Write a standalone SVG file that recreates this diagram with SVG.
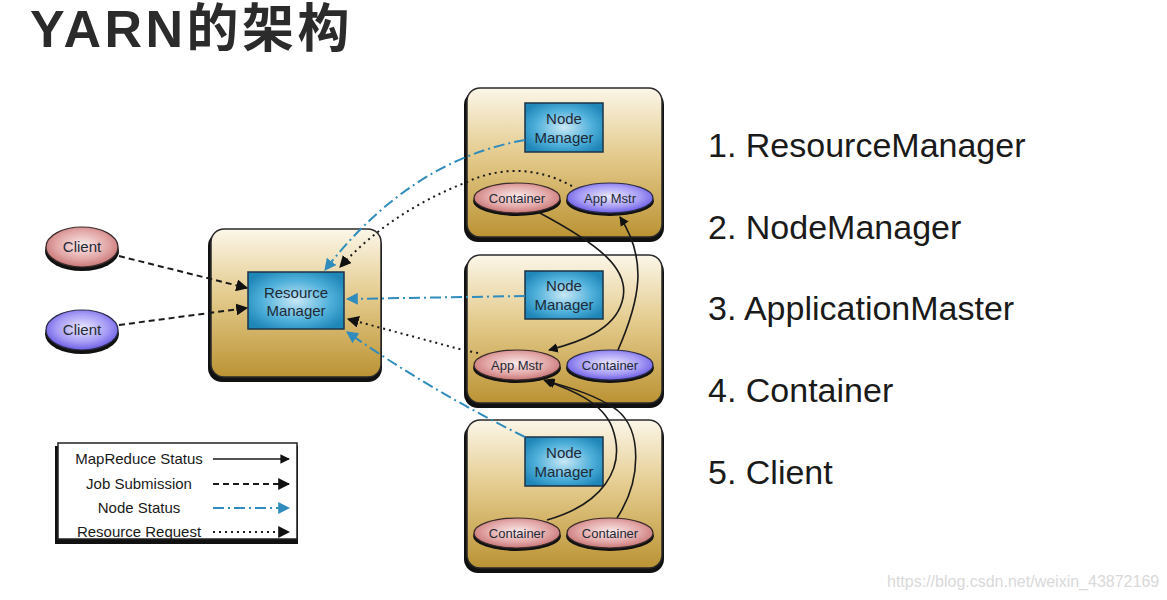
<svg xmlns="http://www.w3.org/2000/svg" width="1167" height="600" viewBox="0 0 1167 600">
<style>
.t{font-family:"Liberation Sans",Arial,sans-serif;fill:#1e2a36;text-anchor:middle}
.nt{font-size:15px}
.et{font-size:13px}
.leg{font-size:15px;fill:#1a1a1a}
.list{font-family:"Liberation Sans",Arial,sans-serif;font-size:34px;fill:#1a1a1a}
.box{fill:url(#gold);stroke:#2a2a2a;stroke-width:1.5}
.shadow{fill:#111}
.inner{fill:url(#blue);stroke:#1b3346;stroke-width:1.5}
.ered{fill:url(#red);stroke:#3a2a2a;stroke-width:1.2}
.eblue{fill:url(#purp);stroke:#2a2a4a;stroke-width:1.2}
.mr{fill:none;stroke:#1a1a1a;stroke-width:1.6;marker-end:url(#ab)}
.js{fill:none;stroke:#1a1a1a;stroke-width:2;stroke-dasharray:6 4;marker-end:url(#ab)}
.ns{fill:none;stroke:#2f8cbc;stroke-width:2;stroke-dasharray:11 4 2 4;marker-end:url(#abl)}
.rr{fill:none;stroke:#1a1a1a;stroke-width:2;stroke-dasharray:2 4;marker-end:url(#ab)}
</style>
<defs>
<linearGradient id="gold" x1="0" y1="0" x2="0" y2="1">
<stop offset="0" stop-color="#fbf6e8"/>
<stop offset="0.45" stop-color="#e4cb8d"/>
<stop offset="1" stop-color="#bb9334"/>
</linearGradient>
<radialGradient id="blue" cx="0.5" cy="0.5" r="0.6">
<stop offset="0" stop-color="#c8e8f6"/>
<stop offset="0.6" stop-color="#4fb0da"/>
<stop offset="1" stop-color="#1f86b8"/>
</radialGradient>
<radialGradient id="red" cx="0.5" cy="0.45" r="0.6">
<stop offset="0" stop-color="#fbeaea"/>
<stop offset="0.6" stop-color="#e2a6a6"/>
<stop offset="1" stop-color="#c26a6a"/>
</radialGradient>
<radialGradient id="purp" cx="0.5" cy="0.45" r="0.6">
<stop offset="0" stop-color="#ece8ff"/>
<stop offset="0.6" stop-color="#a59af5"/>
<stop offset="1" stop-color="#5e4ee0"/>
</radialGradient>
<marker id="ab" viewBox="0 0 10 10" refX="9" refY="5" markerWidth="6" markerHeight="6" markerUnits="strokeWidth" orient="auto">
<path d="M0,0 L10,5 L0,10 z" fill="#111"/>
</marker>
<marker id="abl" viewBox="0 0 10 10" refX="9" refY="5" markerWidth="6" markerHeight="6" markerUnits="strokeWidth" orient="auto">
<path d="M0,0 L10,5 L0,10 z" fill="#2f8cbc"/>
</marker>
</defs>
<rect width="1167" height="600" fill="#ffffff"/>

<text x="30" y="47" font-family="'Liberation Sans','Noto Sans CJK SC',sans-serif" font-size="52" font-weight="bold" letter-spacing="3.5" fill="#2b2b2b">YARN的架构</text>

<g id="rm">
<rect class="shadow" x="208" y="232" width="174" height="150" rx="14"/>
<rect class="box" x="211" y="229" width="170" height="148" rx="13"/>
<rect class="inner" x="248" y="272" width="96" height="57"/>
<text class="t nt" x="296" y="298">Resource</text>
<text class="t nt" x="296" y="316">Manager</text>
</g>

<g id="nm1">
<rect class="shadow" x="464" y="91" width="200" height="151" rx="14"/>
<rect class="box" x="467" y="88" width="195" height="149" rx="13"/>
<rect class="inner" x="525" y="103" width="78" height="49"/>
<text class="t nt" x="564" y="124">Node</text>
<text class="t nt" x="564" y="143">Manager</text>
<ellipse class="shadow" cx="517" cy="201" rx="44" ry="15"/>
<ellipse class="ered" cx="517" cy="198" rx="43" ry="15"/>
<text class="t et" x="517" y="203">Container</text>
<ellipse class="shadow" cx="610" cy="201" rx="44" ry="15"/>
<ellipse class="eblue" cx="610" cy="198" rx="43" ry="15"/>
<text class="t et" x="610" y="203">App Mstr</text>
</g>

<g id="nm2">
<rect class="shadow" x="464" y="258" width="200" height="150" rx="14"/>
<rect class="box" x="467" y="255" width="195" height="148" rx="13"/>
<rect class="inner" x="525" y="271" width="78" height="48"/>
<text class="t nt" x="564" y="291">Node</text>
<text class="t nt" x="564" y="310">Manager</text>
<ellipse class="shadow" cx="517" cy="368" rx="44" ry="15"/>
<ellipse class="ered" cx="517" cy="365" rx="43" ry="15"/>
<text class="t et" x="517" y="370">App Mstr</text>
<ellipse class="shadow" cx="610" cy="368" rx="44" ry="15"/>
<ellipse class="eblue" cx="610" cy="365" rx="43" ry="15"/>
<text class="t et" x="610" y="370">Container</text>
</g>

<g id="nm3">
<rect class="shadow" x="464" y="423" width="200" height="150" rx="14"/>
<rect class="box" x="467" y="420" width="195" height="148" rx="13"/>
<rect class="inner" x="525" y="437" width="78" height="49"/>
<text class="t nt" x="564" y="458">Node</text>
<text class="t nt" x="564" y="477">Manager</text>
<ellipse class="shadow" cx="517" cy="536" rx="44" ry="15"/>
<ellipse class="ered" cx="517" cy="533" rx="43" ry="15"/>
<text class="t et" x="517" y="538">Container</text>
<ellipse class="shadow" cx="610" cy="536" rx="44" ry="15"/>
<ellipse class="ered" cx="610" cy="533" rx="43" ry="15"/>
<text class="t et" x="610" y="538">Container</text>
</g>

<g id="client1">
<ellipse class="shadow" cx="82" cy="251" rx="37" ry="20"/>
<ellipse class="ered" cx="82" cy="247" rx="36" ry="20"/>
<text class="t nt" x="82" y="252">Client</text>
</g>
<g id="client2">
<ellipse class="shadow" cx="82" cy="334" rx="37" ry="20"/>
<ellipse class="eblue" cx="82" cy="330" rx="36" ry="20"/>
<text class="t nt" x="82" y="335">Client</text>
</g>

<g id="connectors">
<path class="js" d="M119,256 L247,288"/>
<path class="js" d="M119,325 L247,308"/>
<path class="ns" d="M525,140 Q 410,160 325,270"/>
<path class="rr" d="M572,186 Q 520,158 467,182 Q 390,212 340,267"/>
<path class="ns" d="M525,296 L347,299"/>
<path class="rr" d="M478,353 L463,350 L348,319"/>
<path class="ns" d="M525,437 Q 430,390 347,332"/>
<path class="mr" d="M538,212 C 600,245 632,270 622,302 C 614,330 580,342 549,350"/>
<path class="mr" d="M618,350 C 640,300 648,260 620,217"/>
<path class="mr" d="M547,520 C 600,505 628,470 612,427 C 602,402 572,390 544,380"/>
<path class="mr" d="M617,518 C 642,480 642,430 617,410 C 598,396 572,388 546,381"/>
</g>

<g id="legend">
<rect class="shadow" x="55" y="446" width="243" height="98"/>
<rect x="58" y="443" width="239" height="96" fill="#ffffff" stroke="#222" stroke-width="1.5"/>
<text class="t leg" x="139" y="464">MapReduce Status</text>
<text class="t leg" x="139" y="489">Job Submission</text>
<text class="t leg" x="139" y="513">Node Status</text>
<text class="t leg" x="139" y="537">Resource Request</text>
<path class="mr" d="M213,459 L289,459"/>
<path class="js" d="M213,484 L289,484"/>
<path class="ns" d="M213,508 L289,508"/>
<path class="rr" d="M213,532 L289,532"/>
</g>

<g id="list">
<text class="list" x="708" y="157">1. ResourceManager</text>
<text class="list" x="708" y="239">2. NodeManager</text>
<text class="list" x="708" y="320">3. ApplicationMaster</text>
<text class="list" x="708" y="402">4. Container</text>
<text class="list" x="708" y="484">5. Client</text>
</g>

<text x="887" y="587" font-family="'Liberation Sans',Arial,sans-serif" font-size="16" fill="#d9d9d9">https://blog.csdn.net/weixin_43872169</text>
</svg>
